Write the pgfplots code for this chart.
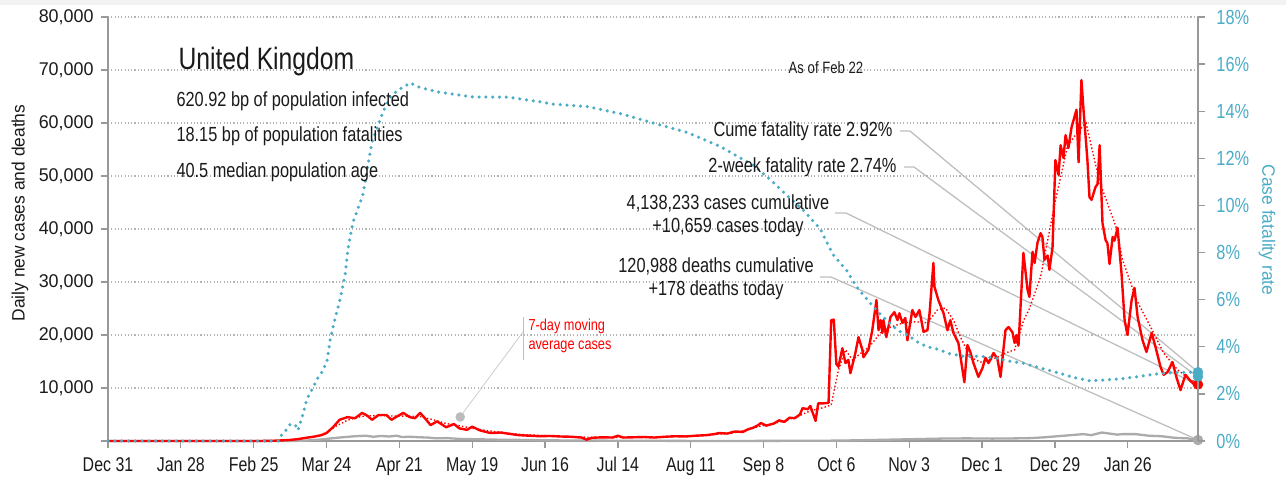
\documentclass[border=0pt]{standalone}
\usepackage{pgfplots}
\usepackage{pgfplotstable}
\pgfplotsset{compat=1.18}
\usepackage{fontspec}
\setmainfont[FakeStretch=0.85]{Liberation Sans}
\newfontfamily\wf[FakeStretch=0.97]{Liberation Sans}
\newfontfamily\nf[FakeStretch=0.8]{Liberation Sans}
\definecolor{cred}{HTML}{FF0000}
\definecolor{cblue}{HTML}{4BACC6}
\definecolor{cgray}{HTML}{ABABAB}
\definecolor{axgray}{HTML}{999999}
\definecolor{gridgray}{HTML}{B4B4B4}
\definecolor{leadgray}{HTML}{BFBFBF}
\definecolor{ptgray}{HTML}{BBBBBB}
\definecolor{txt}{HTML}{1A1A1A}
\definecolor{topgray}{HTML}{F2F2F2}

\pgfplotstableread{
x y
0 0
20 0
40 0
58 0
61 20
64 50
67 120
70 200
73 350
76 600
79 800
82 1100
84 1500
86.5 2600
89 4000
92 4500
95 4300
97.7 5300
99.6 4800
101.5 4000
104 4900
107 4900
109 4000
111 4600
113.5 5300
116 4500
118 4300
120 5300
122 4200
124 3000
126.5 3700
130 2600
133 3200
135 2400
138 2100
140 2700
143 2000
147 1500
151 1600
155 1300
158 1100
162 1000
166 900
170 950
174 850
178 800
182 650
184 250
186 600
190 700
194 650
196 1000
198 650
202 700
206 750
210 650
214 800
218 900
222 850
226 1000
230 1100
233 1300
235 1500
238 1400
241 1800
244 1700
246 2200
248 2500
250 3000
251 3400
253 2900
256 3300
258 3900
260 3600
262 4400
264 4300
266 5000
267 6200
269 6000
270 6600
272 3800
273 7100
275 7100
277 7200
278 22800
279 22900
280 14500
280.8 14000
282.3 17500
283.5 14700
284.6 15300
285.4 12800
287.3 16600
288.5 19600
290 17200
290.4 15800
292.3 17200
293.8 20900
295.4 26600
296.2 20900
297 22800
297.7 20400
298.1 22800
299.2 19600
300.8 23400
302.3 24300
303.5 22800
304.2 24100
305.4 22300
306.5 23200
307.3 19000
309.2 24700
310.4 23400
311.9 24700
313.5 20600
315 20900
315.8 24000
317.3 33600
317.7 29100
319.2 26600
321.2 24100
322.7 20900
323.8 22800
325 20400
326.9 18500
329.2 11100
330.4 18100
331.5 16800
332.7 14700
334.6 12100
336.2 13800
337.3 15700
338.5 14700
340.4 16600
341.9 15500
343.1 12100
345 20900
346.2 21500
347.7 20500
348.5 18500
349.2 20000
350 18000
351.9 35500
353.5 28500
354.2 27200
355.4 35700
356.2 33600
357.3 37400
358.5 39200
359.2 38500
360 34200
361.2 35000
361.9 32300
363.1 36600
364.2 53000
365.4 50200
366.2 55800
367.3 53400
368.1 57700
369.2 55300
370.4 59200
371.2 60600
372.3 62500
373.1 52600
374.2 68100
375 62500
376.5 53000
377.3 46000
378.1 45500
379.6 47900
380.4 48500
381.2 55800
382.3 41100
383.5 37900
384.2 37300
385 33400
386.2 38500
386.9 37800
388.1 40200
389.6 31700
390.8 22800
391.9 20000
393.5 26600
394.6 28900
395.8 23400
397.7 19000
399.2 16800
401.2 20400
402.7 17700
404.6 14000
405.8 12500
407.3 13000
409.2 14900
410.8 11900
412.3 9600
414.2 12500
415.8 11500
417.7 10600
419 10659
}\cases

\pgfplotstableread{
x y
0 0
58 0
65 70
70 200
75 500
80 900
84 1600
88 2900
92 3900
96 4500
100 4800
105 4800
110 4700
115 4700
120 4600
125 4000
130 3300
135 2900
140 2400
145 2000
150 1700
155 1400
160 1200
170 950
180 750
190 650
200 700
210 720
220 900
230 1100
240 1500
245 2000
250 2700
255 3200
260 3800
265 4600
270 5700
275 6300
278 6800
280.8 13400
283.5 17200
286.2 15300
290 16800
292.7 17800
297 20400
300.8 21500
305.8 22300
310.4 22500
315 22300
318.8 24700
321.9 25100
325 22800
327.7 19600
331.5 15800
335.4 14900
339.2 15300
342 15800
345 16600
348.5 17200
352 22800
354 24700
358.5 31000
364 44900
368.8 55500
372.7 58300
376 60000
381 49200
387.5 40400
390 34200
395.4 26600
400.8 21500
405.8 16600
411.2 13400
416.2 11500
419 11000
}\avgcases

\pgfplotstableread{
x y
0 0
70 0
75 50
80 200
85 450
90 700
95 900
99 1000
102 800
105 950
108 850
111 1000
113 750
116 800
120 700
123 650
126 500
130 550
135 400
140 350
145 300
150 250
160 200
170 120
180 100
190 70
200 50
220 20
240 10
260 30
270 50
280 70
290 150
300 250
310 350
320 450
330 500
340 450
350 500
355 550
360 700
365 900
370 1100
375 1300
378 1100
382 1600
385 1400
388 1200
390 1300
395 1300
400 1000
405 900
410 600
415 500
419 178
}\deaths

\pgfplotstableread{
x y
0 0
30 0
60 0
65.4 0
66.9 0.3
68.8 0.5
70 0.7
71.9 0.7
73 0.45
74.6 1.0
76.5 1.8
78.5 2.2
80.8 2.7
82.7 3.0
84.2 3.4
85.4 4.3
87.3 5.2
89.2 6.0
91.2 7.1
92.3 8.2
94.2 9.3
96.2 9.9
98.1 10.5
99.6 11.5
101.5 12.7
103.5 13.3
105.8 14.0
108.5 14.6
111.5 14.9
116.2 15.2
120 15.0
127.7 14.8
134.2 14.7
140.4 14.6
146.9 14.6
153.5 14.6
159.6 14.5
166.2 14.4
171.2 14.3
184.2 14.2
196.9 13.9
209.6 13.5
222.7 13.1
235.4 12.5
248.1 11.7
254.6 11.1
261.2 10.4
267.3 9.8
273.8 9.0
278.8 7.9
284.2 7.2
288.1 6.5
291.9 6.0
295.8 5.5
299.6 5.1
303.5 4.7
307.3 4.5
311.2 4.2
315 4.0
318.8 3.9
323.8 3.7
328.8 3.6
335.4 3.6
341.9 3.5
345.8 3.4
351.9 3.3
358.5 3.1
365 2.9
371.2 2.7
377.7 2.55
384.2 2.6
390.4 2.65
396.9 2.75
403.5 2.85
409.6 2.9
415.4 2.92
419 2.92
}\cfr

\begin{document}
\begin{tikzpicture}
\useasboundingbox (0bp,0bp) rectangle (1286bp,482bp);
\fill[topgray] (0bp,477bp) rectangle (1286bp,482bp);

\begin{scope}[x=1bp,y=1bp]
% leader lines
\draw[leadgray, line width=1.3bp] (900,351) -- (910,351) -- (1198,110);
\draw[leadgray, line width=1.3bp] (904,315) -- (914,315) -- (1198,105);
\draw[leadgray, line width=1.3bp] (835,269) -- (846,269) -- (1198,97);
\draw[leadgray, line width=1.3bp] (820,205) -- (831,205) -- (1198,42);
\draw[leadgray!80, line width=0.8bp] (523,150) -- (460,65);
\draw[leadgray, line width=1bp] (523,165) -- (523,122);
\end{scope}

\begin{axis}[
  at={(108bp,41bp)}, anchor=south west,
  scale only axis, width=1090bp, height=424bp,
  xmin=0, xmax=419, ymin=0, ymax=80000,
  clip=false,
  axis x line*=bottom, axis y line*=left,
  axis line style={axgray, line width=1.3bp},
  tick style={axgray, line width=1.3bp},
  tick align=outside, major tick length=7bp,
  xtick={0,28,...,392},
  xticklabels={Dec 31,Jan 28,Feb 25,Mar 24,Apr 21,May 19,Jun 16,Jul 14,Aug 11,Sep 8,Oct 6,Nov 3,Dec 1,Dec 29,Jan 26},
  ytick={0,10000,...,80000},
  yticklabels={{},{10,000},{20,000},{30,000},{40,000},{50,000},{60,000},{70,000},{80,000}},
  ymajorgrids,
  grid style={gridgray, line width=1.1bp, dash pattern=on 1.1bp off 2.2bp},
  xticklabel style={font=\nf\fontsize{20}{20}\selectfont, text=txt, yshift=-6bp},
  yticklabel style={font=\wf\fontsize{18.5}{20}\selectfont, text=txt, xshift=-4bp},
  scaled y ticks=false,
]
\addplot[cgray, line width=2.3bp, line join=round] table {\deaths};
\addplot[cred, line width=1.4bp, dash pattern=on 1.4bp off 2.2bp] table {\avgcases};
\addplot[cred, line width=2.4bp, line join=round] table {\cases};
\addplot[only marks, mark=*, mark size=4.5bp, mark options={fill=ptgray, draw=ptgray}] coordinates {(135.4,4530)};
\addplot[only marks, mark=*, mark size=5bp, mark options={fill=cred, draw=cred}] coordinates {(419,10659)};
\addplot[only marks, mark=*, mark size=5bp, mark options={fill=cgray, draw=cgray}] coordinates {(419,178)};
\end{axis}

\begin{axis}[
  at={(108bp,41bp)}, anchor=south west,
  scale only axis, width=1090bp, height=424bp,
  xmin=0, xmax=419, ymin=0, ymax=18,
  clip=false,
  axis x line=none, axis y line*=right,
  axis line style={axgray, line width=1.3bp},
  tick style={axgray, line width=1.3bp},
  tick align=outside, major tick length=7bp,
  ytick={0,2,...,18},
  yticklabels={0\%,2\%,4\%,6\%,8\%,10\%,12\%,14\%,16\%,18\%},
  yticklabel style={font=\nf\fontsize{20.5}{20}\selectfont, text=cblue, xshift=8bp},
]
\addplot[cblue, line width=3.5bp, line cap=round, dash pattern=on 0bp off 6.8bp] table {\cfr};
\addplot[only marks, mark=*, mark size=5bp, mark options={fill=cblue, draw=cblue}] coordinates {(419,2.74) (419,2.92)};
\end{axis}

\begin{scope}[x=1bp,y=1bp]
\node[anchor=west, text=txt, font=\nf\fontsize{31}{32}\selectfont] at (175,420) {United Kingdom};
\node[anchor=west, text=txt, font=\nf\fontsize{20.5}{20}\selectfont] at (173,381) {620.92 bp of population infected};
\node[anchor=west, text=txt, font=\nf\fontsize{20.5}{20}\selectfont] at (173,346) {18.15 bp of population fatalities};
\node[anchor=west, text=txt, font=\nf\fontsize{20.5}{20}\selectfont] at (173,310) {40.5 median population age};
\node[text=txt, font=\nf\fontsize{16.5}{17}\selectfont] at (826,414) {As of Feb 22};
\node[anchor=east, text=txt, font=\nf\fontsize{20.5}{20}\selectfont] at (896,351) {Cume fatality rate 2.92\%};
\node[anchor=east, text=txt, font=\nf\fontsize{20.5}{20}\selectfont] at (900,315) {2-week fatality rate 2.74\%};
\node[text=txt, font=\nf\fontsize{20.5}{20}\selectfont] at (728,279) {4,138,233 cases cumulative};
\node[text=txt, font=\nf\fontsize{20.5}{20}\selectfont] at (728,255) {+10,659 cases today};
\node[text=txt, font=\nf\fontsize{20.5}{20}\selectfont] at (716,216) {120,988 deaths cumulative};
\node[text=txt, font=\nf\fontsize{20.5}{20}\selectfont] at (716,192) {+178 deaths today};
\node[anchor=west, text=cred, font=\nf\fontsize{16}{19}\selectfont, align=left] at (525,146) {7-day moving\\average cases};
\node[rotate=90, text=txt, font=\wf\fontsize{18}{20}\selectfont] at (20,269) {Daily new cases and deaths};
\node[rotate=-90, text=cblue, font=\wf\fontsize{18}{20}\selectfont] at (1267,252) {Case fatality rate};
\end{scope}
\end{tikzpicture}
\end{document}
